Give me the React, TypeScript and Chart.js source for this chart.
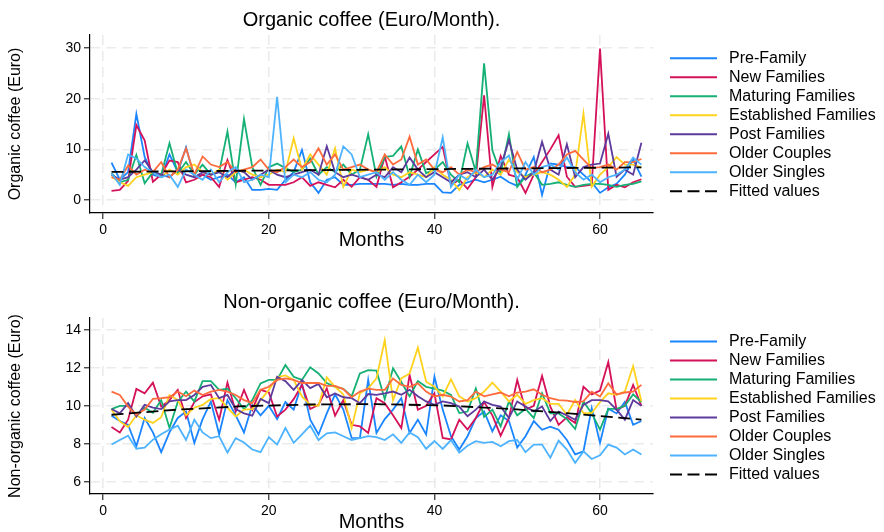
import React, { useEffect, useRef } from 'react';
import { Chart, registerables } from 'chart.js';

Chart.register(...registerables);

const FONT = "'Liberation Sans', Arial, Helvetica, sans-serif";

const months = [
  1, 2, 3, 4, 5, 6, 7, 8, 9, 10, 11, 12, 13, 14, 15, 16, 17, 18, 19, 20,
  21, 22, 23, 24, 25, 26, 27, 28, 29, 30, 31, 32, 33, 34, 35, 36, 37, 38, 39, 40,
  41, 42, 43, 44, 45, 46, 47, 48, 49, 50, 51, 52, 53, 54, 55, 56, 57, 58, 59, 60,
  61, 62, 63, 64, 65,
];

const seriesNames = [
  'Pre-Family',
  'New Families',
  'Maturing Families',
  'Established Families',
  'Post Families',
  'Older Couples',
  'Older Singles',
];
const fittedLabel = 'Fitted values';
const seriesColors = ['#1a85ff', '#d41159', '#14b074', '#ffd21f', '#5d3a9b', '#ff6b3d', '#4db3ff'];

const xTicks = [0, 20, 40, 60];
const orgYTicks = [0, 10, 20, 30];
const nonYTicks = [6, 8, 10, 12, 14];

// ---------- Organic coffee (Euro/Month) ----------
const orgPreFamily = [
  7.4, 4.0, 5.5, 17.0, 8.5, 5.0, 4.5, 9.0, 5.5, 10.4,
  4.5, 5.0, 4.0, 4.5, 5.0, 3.5, 4.5, 2.0, 2.0, 2.2,
  2.0, 4.0, 5.5, 9.9, 3.5, 1.4, 4.0, 4.5, 3.0, 3.0,
  3.2, 3.2, 3.2, 3.2, 3.0, 3.2, 3.0, 3.0, 3.2, 3.2,
  1.5, 1.4, 3.0, 3.5, 4.0, 3.5, 4.0, 4.6, 3.5, 2.8,
  5.0, 8.5, 1.0, 7.2, 7.0, 6.5, 6.5, 5.0, 3.5, 1.4,
  2.5, 3.2, 5.0, 8.0, 4.6,
];
const orgNewFamilies = [
  1.8, 2.0, 3.8, 14.8, 11.8, 3.6, 5.0, 7.8, 7.5, 3.5,
  4.0, 5.0, 4.5, 2.6, 7.9, 3.5, 4.0, 4.5, 4.0, 3.0,
  3.0, 3.0, 3.5, 4.5, 2.8, 3.5, 3.0, 2.5, 4.0, 2.6,
  4.5, 4.0, 2.6, 8.6, 2.5, 3.5, 4.6, 6.0, 7.5, 9.0,
  10.5, 3.0, 4.0, 2.2, 4.5, 20.7, 2.6, 8.7, 5.0, 4.5,
  1.4, 5.0, 7.5, 10.0, 12.8, 4.6, 2.6, 2.8, 3.0, 29.9,
  2.0, 3.0, 2.5, 3.5, 4.1,
];
const orgMaturing = [
  5.3, 3.5, 4.0, 8.9, 3.3, 5.5, 5.0, 11.2, 5.3, 7.5,
  5.0, 7.0, 5.0, 5.5, 13.5, 3.1, 16.0, 6.5, 3.0, 6.5,
  7.2, 6.3, 5.5, 6.0, 8.2, 5.0, 6.5, 5.5, 7.0, 5.0,
  6.0, 13.0, 4.6, 8.5, 8.7, 10.6, 4.6, 10.0, 5.3, 6.0,
  7.5, 5.0, 3.5, 11.2, 5.6, 27.0, 9.8, 5.3, 13.0, 2.6,
  4.6, 5.5, 3.0, 3.2, 3.5, 3.0, 2.6, 3.0, 3.2, 3.2,
  3.0, 2.6, 3.0, 3.2, 3.7,
];
const orgEstablished = [
  4.6, 3.5, 2.8, 4.5, 5.0, 5.5, 4.5, 6.0, 5.0, 6.5,
  7.0, 5.5, 5.0, 6.0, 4.0, 5.5, 6.0, 5.0, 4.5, 5.0,
  6.0, 5.5, 12.2, 6.0, 9.0, 7.0, 5.0, 10.2, 2.6, 6.0,
  5.5, 6.0, 5.5, 6.5, 5.0, 4.5, 5.5, 5.0, 4.5, 6.5,
  5.0, 4.0, 2.0, 4.5, 5.5, 4.5, 6.0, 5.0, 8.0, 5.5,
  4.5, 5.0, 5.5, 5.0, 4.0, 2.6, 5.0, 17.1, 2.6, 5.0,
  6.5, 8.5, 7.0, 7.0, 6.4,
];
const orgPost = [
  5.0, 4.0, 4.5, 6.0, 7.8, 5.5, 5.0, 4.5, 6.0, 5.0,
  4.5, 5.5, 5.0, 5.5, 4.5, 6.0, 5.5, 4.0, 5.0, 6.0,
  5.0, 4.5, 5.0, 5.5, 6.0, 5.0, 10.6, 5.5, 4.5, 5.0,
  4.5, 4.0, 5.0, 4.5, 6.5, 5.5, 8.4, 6.0, 4.5, 5.5,
  4.5, 3.5, 5.0, 5.5, 4.5, 6.0, 4.0, 6.5, 11.8, 6.0,
  4.0, 5.5, 11.5, 6.0, 5.0, 11.0, 4.5, 6.5, 7.0, 7.2,
  13.1, 4.6, 6.0, 5.0, 11.3,
];
const orgOlderCouples = [
  4.5, 4.0, 6.8, 5.0, 6.0, 5.5, 7.5, 4.5, 6.0, 10.2,
  5.0, 8.6, 7.0, 6.5, 7.5, 5.5, 6.0, 6.5, 8.0, 6.0,
  5.5, 6.5, 8.0, 6.5, 7.5, 10.2, 7.0, 9.0, 6.0, 6.5,
  7.0, 6.0, 5.5, 9.0, 7.0, 8.0, 12.5, 7.0, 8.0, 6.0,
  5.5, 6.5, 5.0, 6.0, 5.5, 6.5, 7.0, 6.0, 5.5, 9.5,
  6.0, 6.5, 5.5, 6.0, 7.0, 9.0, 9.7, 8.0, 6.3, 6.5,
  7.0, 6.0, 7.5, 7.5, 8.1,
];
const orgOlderSingles = [
  5.3, 3.0, 9.0, 8.2, 6.5, 5.5, 4.5, 5.0, 2.6, 6.0,
  5.0, 4.0, 6.0, 3.5, 5.5, 6.5, 3.5, 4.0, 5.0, 4.5,
  20.4, 3.5, 5.0, 4.5, 5.5, 4.0, 3.5, 5.0, 10.6, 9.0,
  4.5, 5.0, 5.5, 4.0, 5.5, 4.0, 3.0, 5.0, 3.5, 5.0,
  12.4, 2.6, 5.0, 4.0, 6.0, 4.5, 5.0, 7.5, 8.8, 4.0,
  7.5, 5.0, 6.5, 7.0, 6.0, 8.4, 5.5, 4.0, 5.0, 3.5,
  4.5, 5.0, 6.0, 8.4, 7.0,
];
const orgFittedX = [1, 65];
const orgFittedY = [5.55, 6.45];

// ---------- Non-organic coffee (Euro/Month) ----------
const nonPreFamily = [
  9.48, 9.2, 9.0, 7.87, 9.36, 8.6, 7.56, 8.6, 9.36, 9.7,
  8.05, 9.3, 10.22, 8.5, 10.3, 9.5, 8.6, 10.05, 9.5, 10.0,
  9.3, 10.2, 9.8, 11.18, 9.27, 8.49, 9.6, 10.6, 9.8, 8.31,
  8.3, 11.36, 8.57, 9.3, 9.8, 10.4, 8.57, 9.27, 8.49, 11.53,
  9.8, 8.4, 7.7, 8.4, 9.36, 9.7, 8.66, 9.5, 9.2, 7.8,
  8.4, 9.2, 8.74, 8.9, 8.74, 8.2, 7.44, 7.6, 9.88, 8.05,
  9.85, 9.6, 10.2, 9.0, 9.2,
];
const nonNewFamilies = [
  8.88, 8.6, 9.27, 10.89, 10.66, 11.22, 9.96, 10.3, 10.84, 9.37,
  10.2, 10.5, 10.6, 9.27, 11.22, 9.7, 10.84, 9.79, 10.84, 10.7,
  9.44, 9.8, 10.35, 11.1, 9.83, 10.05, 10.92, 9.48, 10.3, 9.0,
  8.92, 8.57, 10.4, 10.14, 9.5, 8.83, 11.62, 9.79, 10.0, 10.66,
  8.31, 8.23, 9.27, 8.75, 9.36, 10.2, 9.5, 8.43, 9.36, 11.36,
  9.79, 10.0, 11.57, 9.96, 9.0, 9.4, 9.1, 11.0, 10.6, 10.8,
  12.3, 9.8, 10.0, 11.1, 10.0,
];
const nonMaturing = [
  9.83, 10.0, 10.0, 9.44, 9.9, 9.63, 10.3, 8.83, 10.2, 10.75,
  10.23, 11.3, 11.3, 10.84, 10.9, 10.4, 9.83, 10.3, 11.18, 11.36,
  11.36, 12.15, 11.53, 11.36, 12.03, 11.7, 11.2, 11.0, 10.9, 10.5,
  11.7, 11.88, 11.85, 10.35, 11.97, 11.25, 10.49, 11.3, 11.0, 10.9,
  10.8, 10.57, 9.62, 9.7, 10.92, 9.42, 9.8, 8.92, 10.23, 9.5,
  9.84, 9.36, 10.66, 9.6, 9.6, 9.3, 8.78, 10.23, 9.6, 8.75,
  9.84, 9.84, 10.0, 10.6, 10.2,
];
const nonEstablished = [
  9.79, 9.18, 8.89, 9.5, 9.27, 9.1, 9.4, 10.57, 10.3, 9.5,
  9.9, 10.05, 10.36, 10.4, 9.9, 9.44, 9.8, 9.83, 10.3, 10.84,
  11.5, 11.6, 11.36, 10.49, 10.05, 10.0, 11.5, 11.0, 10.6, 8.83,
  10.66, 10.92, 11.44, 13.45, 10.3, 11.44, 11.7, 13.06, 11.27, 11.0,
  10.5, 11.39, 10.5, 10.23, 10.4, 10.75, 11.22, 10.75, 10.23, 10.58,
  10.1, 10.3, 10.4, 10.1, 10.1, 9.53, 10.3, 9.62, 9.62, 10.2,
  10.66, 10.58, 10.75, 12.09, 10.23,
];
const nonPost = [
  9.83, 9.6, 10.14, 9.44, 10.05, 9.9, 9.83, 10.23, 10.3, 10.3,
  10.57, 11.0, 11.1, 10.4, 10.57, 9.83, 9.6, 9.48, 10.36, 10.14,
  11.53, 11.3, 10.84, 11.35, 10.93, 11.15, 10.45, 10.65, 10.45, 10.4,
  10.14, 10.62, 10.58, 10.66, 10.75, 10.58, 10.84, 10.5, 10.23, 10.05,
  10.23, 10.14, 9.96, 9.45, 9.8, 10.23, 10.05, 9.96, 9.36, 10.23,
  9.96, 9.7, 9.96, 9.2, 9.7, 9.5, 9.27, 10.05, 10.3, 10.3,
  10.23, 9.8, 9.27, 10.3, 10.0,
];
const nonOlderCouples = [
  10.75, 10.57, 9.96, 9.53, 9.8, 10.36, 10.4, 10.45, 10.75, 10.5,
  10.8, 10.57, 10.75, 10.84, 10.75, 10.57, 10.3, 10.14, 10.84, 11.0,
  11.36, 11.44, 11.36, 11.2, 11.2, 11.2, 11.05, 11.05, 10.88, 10.45,
  10.75, 10.9, 10.84, 10.84, 11.44, 11.1, 11.0, 11.18, 10.75, 10.49,
  10.58, 10.49, 10.23, 10.3, 10.75, 10.5, 10.6, 10.7, 10.5, 10.7,
  10.75, 10.87, 10.58, 10.4, 10.3, 10.27, 10.2, 10.23, 10.75, 10.49,
  11.18, 10.6, 10.7, 10.75, 11.1,
];
const nonOlderSingles = [
  7.96, 8.2, 8.43, 7.74, 7.8, 8.22, 8.5, 8.75, 8.95, 8.2,
  9.27, 8.6, 8.3, 8.4, 7.54, 8.3, 8.07, 7.7, 7.56, 8.35,
  7.96, 8.83, 8.05, 8.5, 8.96, 8.2, 8.55, 8.6, 8.4, 8.2,
  8.3, 8.4, 8.35, 8.2, 8.5, 8.05, 8.6, 8.35, 7.74, 8.15,
  7.73, 8.2, 7.53, 7.9, 8.14, 8.05, 8.1, 7.87, 8.14, 8.2,
  7.56, 7.96, 7.96, 7.27, 8.17, 7.7, 7.0, 7.6, 7.2, 7.4,
  7.96, 7.8, 7.44, 7.7, 7.44,
];
const nonFittedX = [1, 9, 17, 25, 33, 41, 49, 57, 65];
const nonFittedY = [9.53, 9.8, 9.98, 10.07, 10.09, 10.02, 9.84, 9.58, 9.27];

type PanelSpec = {
  title: string;
  yTitle: string;
  values: number[][];
  fitX: number[];
  fitY: number[];
  yMin: number;
  yMax: number;
  yTicks: number[];
  padTop: number;
  xAxisHeight: number;
  xTitlePad: number;
  titleY: number;
  legendY0: number;
};

const W = 884;
const H = 266;
const PLOT_LEFT = 90;
const PLOT_RIGHT = 653;
const GRID = '#ebebeb';

const organicPanel: PanelSpec = {
  title: 'Organic coffee (Euro/Month).',
  yTitle: 'Organic coffee (Euro)',
  values: [orgPreFamily, orgNewFamilies, orgMaturing, orgEstablished, orgPost, orgOlderCouples, orgOlderSingles],
  fitX: orgFittedX,
  fitY: orgFittedY,
  yMin: -2.57,
  yMax: 32.6,
  yTicks: orgYTicks,
  padTop: 35,
  xAxisHeight: 53,
  xTitlePad: 16,
  titleY: 20.5,
  legendY0: 58.3,
};

const nonOrganicPanel: PanelSpec = {
  title: 'Non-organic coffee (Euro/Month).',
  yTitle: 'Non-organic coffee (Euro)',
  values: [nonPreFamily, nonNewFamilies, nonMaturing, nonEstablished, nonPost, nonOlderCouples, nonOlderSingles],
  fitX: nonFittedX,
  fitY: nonFittedY,
  yMin: 5.36,
  yMax: 14.62,
  yTicks: nonYTicks,
  padTop: 52,
  xAxisHeight: 38,
  xTitlePad: 0,
  titleY: 36.5,
  legendY0: 75.5,
};

function buildConfig(p: PanelSpec): any {
  const datasets: any[] = seriesNames.map((name, i) => ({
    label: name,
    data: months.map((m, j) => ({ x: m, y: p.values[i][j] })),
    borderColor: seriesColors[i],
    backgroundColor: seriesColors[i],
    borderWidth: 1.8,
    pointRadius: 0,
    tension: 0,
    fill: false,
    order: seriesNames.length - i,
  }));
  datasets.push({
    label: fittedLabel,
    data: p.fitX.map((x, j) => ({ x, y: p.fitY[j] })),
    borderColor: '#000',
    backgroundColor: '#000',
    borderWidth: 1.8,
    borderDash: [12, 5.5],
    pointRadius: 0,
    tension: 0,
    fill: false,
    order: 0,
  });

  const decor = {
    id: 'decor',
    afterDraw(chart: any) {
      const ctx = chart.ctx as CanvasRenderingContext2D;
      const a = chart.chartArea;
      ctx.save();
      ctx.fillStyle = '#000';
      ctx.font = `20px ${FONT}`;
      ctx.textAlign = 'center';
      ctx.textBaseline = 'middle';
      ctx.fillText(p.title, (a.left + a.right) / 2, p.titleY);

      ctx.font = `16px ${FONT}`;
      ctx.textAlign = 'left';
      const labels = [...seriesNames, fittedLabel];
      const colors = [...seriesColors, '#000'];
      labels.forEach((lab, i) => {
        const y = p.legendY0 + i * 19;
        ctx.strokeStyle = colors[i];
        ctx.lineWidth = 2;
        ctx.setLineDash(i === labels.length - 1 ? [12, 5.5] : []);
        ctx.beginPath();
        ctx.moveTo(670, y);
        ctx.lineTo(717, y);
        ctx.stroke();
        ctx.setLineDash([]);
        ctx.fillStyle = '#000';
        ctx.fillText(lab, 729, y);
      });
      ctx.restore();
    },
  };

  const gridOpts = {
    color: GRID,
    lineWidth: 1.6,
    drawTicks: true,
    tickLength: 6,
    tickColor: '#000',
    tickWidth: 1,
  };
  const borderOpts = { display: true, color: '#000', width: 1.2, dash: [10, 6] };

  return {
    type: 'line',
    data: { datasets },
    options: {
      responsive: false,
      animation: false,
      devicePixelRatio: 1,
      layout: { padding: { top: p.padTop, right: W - PLOT_RIGHT, left: 0, bottom: 0 } },
      plugins: {
        legend: { display: false },
        tooltip: { enabled: false },
        title: { display: false },
      },
      scales: {
        x: {
          type: 'linear',
          min: -1.6,
          max: 66.4,
          afterBuildTicks: (s: any) => {
            s.ticks = xTicks.map((v) => ({ value: v }));
          },
          afterFit: (s: any) => {
            s.height = p.xAxisHeight;
          },
          ticks: { color: '#000', font: { family: FONT, size: 14 }, padding: 3, maxRotation: 0, autoSkip: false },
          grid: gridOpts,
          border: borderOpts,
          title: {
            display: true,
            text: 'Months',
            color: '#000',
            font: { family: FONT, size: 20, lineHeight: 1 },
            padding: { top: 0, bottom: p.xTitlePad },
          },
        },
        y: {
          type: 'linear',
          min: p.yMin,
          max: p.yMax,
          afterBuildTicks: (s: any) => {
            s.ticks = p.yTicks.map((v) => ({ value: v }));
          },
          afterFit: (s: any) => {
            s.width = PLOT_LEFT;
          },
          ticks: { color: '#000', font: { family: FONT, size: 14 }, padding: 3, autoSkip: false },
          grid: gridOpts,
          border: borderOpts,
          title: {
            display: true,
            text: p.yTitle,
            color: '#000',
            font: { family: FONT, size: 16, lineHeight: 1.2 },
            padding: { top: 6.4, bottom: 0 },
          },
        },
      },
    },
    plugins: [decor],
  };
}

function Panel({ spec }: { spec: PanelSpec }) {
  const ref = useRef<HTMLCanvasElement | null>(null);
  useEffect(() => {
    if (!ref.current) return;
    const chart = new Chart(ref.current, buildConfig(spec));
    return () => chart.destroy();
  }, [spec]);
  return (
    <canvas
      ref={ref}
      width={W}
      height={H}
      style={{ display: 'block', width: W, height: H }}
    />
  );
}

export default function App() {
  return (
    <div
      style={{
        position: 'absolute',
        left: 0,
        top: 0,
        width: W,
        height: 2 * H,
        background: '#fff',
        overflow: 'hidden',
      }}
    >
      <Panel spec={organicPanel} />
      <Panel spec={nonOrganicPanel} />
    </div>
  );
}
